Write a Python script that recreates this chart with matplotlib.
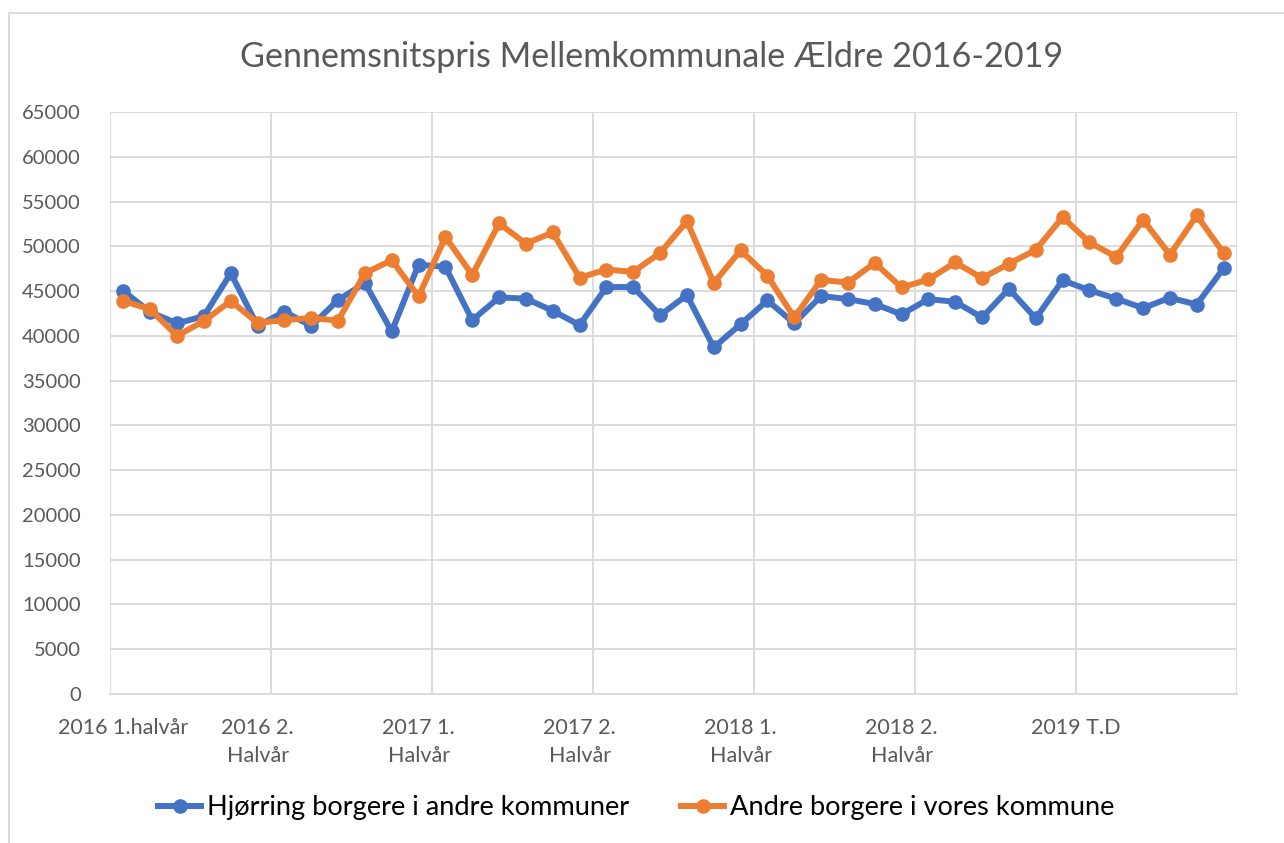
import matplotlib.pyplot as plt
from matplotlib.patches import Rectangle
import numpy as np

plt.rcParams['font.family'] = ['Lato', 'DejaVu Sans']

# -----------------------------
#  Data (monthly)
# -----------------------------
hjorring = [45000, 42650, 41400, 42200, 47000, 41100, 42700, 41100, 44000, 45900,
            40500, 47950, 47700, 41750, 44300, 44150, 42800, 41200, 45450, 45450,
            42300, 44550, 38700, 41300, 43950, 41400, 44450, 44100, 43550, 42400,
            44100, 43800, 42050, 45250, 41950, 46200, 45100, 44150, 43100, 44250,
            43500, 47550]
andre = [43900, 42950, 40000, 41650, 43900, 41450, 41750, 42000, 41700, 47000,
         48450, 44400, 51050, 46800, 52550, 50300, 51550, 46500, 47400, 47150,
         49250, 52800, 45900, 49550, 46700, 42050, 46250, 45950, 48150, 45400,
         46300, 48200, 46450, 48050, 49600, 53250, 50450, 48800, 52950, 49050,
         53450, 49250]

tick_pos = [0, 5, 11, 17, 23, 29, 35.5]
tick_labels = ["2016 1.halvår", "2016 2.\nHalvår", "2017 1.\nHalvår", "2017 2.\nHalvår",
               "2018 1.\nHalvår", "2018 2.\nHalvår", "2019 T.D"]

title = "Gennemsnitspris Mellemkommunale Ældre 2016-2019"
label_blue = "Hjørring borgere i andre kommuner"
label_orange = "Andre borgere i vores kommune"

# -----------------------------
#  Figure
# -----------------------------
W, H = 1284, 843
fig = plt.figure(figsize=(W / 100, H / 100), dpi=100)
ax = fig.add_axes([110 / W, (H - 694) / H, 1127 / W, 582 / H])

x = np.arange(len(hjorring))
blue, orange = '#4472C4', '#ED7D31'
ax.plot(x, hjorring, color=blue, lw=4.3, marker='o', ms=9.5, label=label_blue, zorder=3)
ax.plot(x, andre, color=orange, lw=4.3, marker='o', ms=9.5, label=label_orange, zorder=3)

ax.set_xlim(-0.5, len(x) - 0.5)
ax.set_ylim(0, 65000)
ax.set_yticks(np.arange(0, 65001, 5000))
ax.set_xticks(tick_pos)
ax.set_xticklabels(tick_labels, linespacing=1.55)
ax.tick_params(axis='both', length=0, labelcolor='#595959')
ax.tick_params(axis='x', pad=17, labelsize=15.5)
ax.tick_params(axis='y', pad=21, labelsize=14.5)

grid_c = '#d9d9d9'
ax.grid(axis='y', color=grid_c, lw=1.3, zorder=0)
for gx in np.arange(-0.5, len(x), 6):
    ax.axvline(gx, color=grid_c, lw=1.3, zorder=0)
for s in ['top', 'right', 'left']:
    ax.spines[s].set_visible(False)
ax.spines['bottom'].set_color(grid_c)
ax.spines['bottom'].set_linewidth(1.3)

fig.text(652 / W, (H - 57) / H, title, ha='center', va='center', fontsize=24.6, color='#595959')

fig.legend(loc='center', bbox_to_anchor=(636 / W, (H - 808) / H), ncol=2, frameon=False,
           fontsize=19.6, handlelength=1.6, handletextpad=0.2, columnspacing=1.9)

# light chart-area frame
fig.patches.append(Rectangle((9 / W, -0.1), 1.2, (H - 13) / H + 0.1, transform=fig.transFigure,
                             fill=False, edgecolor=grid_c, lw=1.3))

plt.savefig('out.png', dpi=100)
plt.close()
